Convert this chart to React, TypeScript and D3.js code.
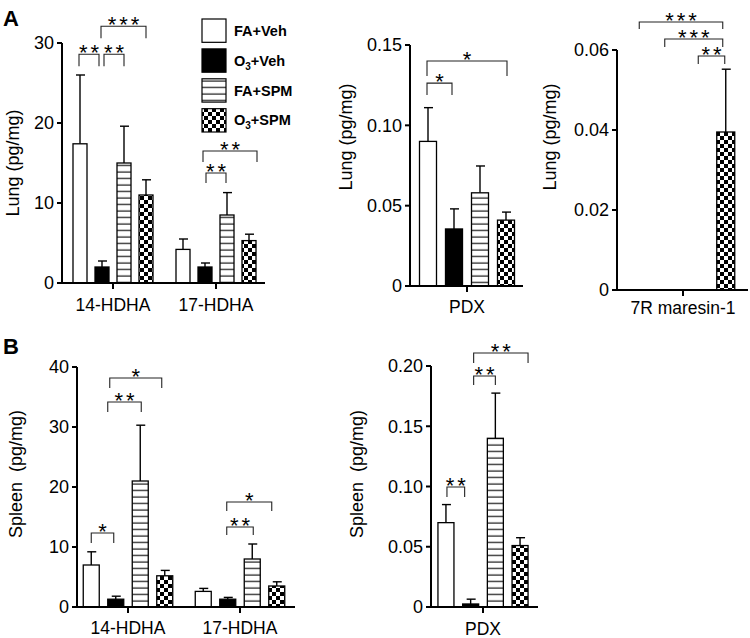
import React from 'react';
import * as d3 from 'd3';

// treatment groups (legend order)
const series = ['FA+Veh', 'O3+Veh', 'FA+SPM', 'O3+SPM'];
const fills = ['#fff', '#000', 'url(#stripes)', 'url(#checks)'];

// lung
const lungHdhaCats = ['14-HDHA', '17-HDHA'];
const lungHdhaMean = [[17.4, 2.0, 15.0, 11.0], [4.2, 2.0, 8.5, 5.3]];
const lungHdhaErr = [[8.6, 0.75, 4.6, 1.9], [1.3, 0.5, 2.8, 0.8]];

const lungPdxCats = ['PDX'];
const lungPdxMean = [[0.09, 0.0355, 0.058, 0.041]];
const lungPdxErr = [[0.021, 0.0125, 0.0167, 0.005]];

const lungMarCats = ['7R maresin-1'];
const lungMarMean = [[0, 0, 0, 0.0395]];
const lungMarErr = [[0, 0, 0, 0.0157]];

// spleen
const spleenHdhaCats = ['14-HDHA', '17-HDHA'];
const spleenHdhaMean = [[7.0, 1.3, 21.0, 5.2], [2.6, 1.3, 8.0, 3.5]];
const spleenHdhaErr = [[2.2, 0.5, 9.3, 0.9], [0.5, 0.3, 2.5, 0.7]];

const spleenPdxCats = ['PDX'];
const spleenPdxMean = [[0.07, 0.0025, 0.14, 0.051]];
const spleenPdxErr = [[0.015, 0.004, 0.0375, 0.0065]];

// y ticks
const ticks30 = [0, 10, 20, 30];
const ticks015 = [0, 0.05, 0.1, 0.15];
const ticks006 = [0, 0.02, 0.04, 0.06];
const ticks40 = [0, 10, 20, 30, 40];
const ticks020 = [0, 0.05, 0.1, 0.15, 0.2];

// significance brackets: [group, from series, to series, level, label, leg, dx1, dx2]
type Br = [number, number, number, number, string, number, number, number];
const lungHdhaSig: Br[] = [
    [0, 0, 1, 28.6, '**', 12, -1, -3],
    [0, 1, 2, 28.6, '**', 12, 2, 0],
    [0, 1, 3, 32.1, '***', 12, -1, 0],
    [1, 1, 2, 13.75, '**', 10, 1, -1],
    [1, 1, 3, 16.5, '**', 11, -2, 8],
];
const lungPdxSig: Br[] = [
    [0, 0, 1, 0.1263, '*', 12, -1, -2],
    [0, 0, 3, 0.14, '*', 15, -1, 1],
];
const lungMarSig: Br[] = [
    [0, 0, 3, 0.067, '***', 7, -1, -3],
    [0, 1, 3, 0.06275, '***', 8, -4, -3],
    [0, 2, 3, 0.0585, '**', 8, 1, -1],
];
const spleenHdhaSig: Br[] = [
    [0, 0, 1, 12.33, '*', 10, 0, -2],
    [0, 1, 2, 34.17, '**', 10, -8, 1],
    [0, 1, 3, 38.17, '*', 10, -6, -3],
    [1, 1, 2, 13.33, '**', 8, -1, 1],
    [1, 1, 3, 17.5, '*', 9, -1, -5],
];
const spleenPdxSig: Br[] = [
    [0, 0, 1, 0.0996, '**', 10, 1, -6],
    [0, 1, 2, 0.1917, '**', 9, 3, 0],
    [0, 1, 3, 0.2108, '**', 10, 3, 8],
];

const FONT = '"Liberation Sans", Arial, sans-serif';

const fmt2 = (v: number) => (v === 0 ? '0' : d3.format('.2f')(v));
const fmt0 = (v: number) => d3.format('d')(v);

function Panel(p: any) {
    const y = d3.scaleLinear().domain([0, p.yMax]).range(p.yRange);
    const x0 = d3.scaleBand().domain(p.cats).range(p.groupRange).padding(0);
    const pad = 1 - p.barWidth / p.barStep;
    const inner = (c: string) => {
        const cx = (x0(c) as number) + x0.bandwidth() / 2;
        return d3.scaleBand().domain(series)
            .range([cx - 2 * p.barStep, cx + 2 * p.barStep])
            .paddingInner(pad).paddingOuter(pad / 2);
    };
    const y0 = y(0);
    const yTop = y(p.ticks[p.ticks.length - 1]);

    return (
        <g>
            {/* bars */}
            {p.cats.map((c: string, gi: number) => {
                const x1 = inner(c);
                return series.map((s, si) => {
                    const v = p.means[gi][si];
                    const e = p.errs[gi][si];
                    const bx = x1(s) as number;
                    const cx = bx + x1.bandwidth() / 2;
                    return (
                        <g key={c + s}>
                            {e > 0 && (
                                <g stroke="#000" strokeWidth={1.4}>
                                    <line x1={cx} x2={cx} y1={y(v)} y2={y(v + e)} />
                                    <line x1={cx - 4} x2={cx + 5} y1={y(v + e)} y2={y(v + e)} />
                                </g>
                            )}
                            {v > 0 && (
                                <rect x={bx} y={y(v)} width={x1.bandwidth()} height={y0 - y(v)}
                                    fill={fills[si]} stroke="#000" strokeWidth={1.3} />
                            )}
                        </g>
                    );
                });
            })}
            {/* axes */}
            <line x1={p.axisX[0]} x2={p.axisX[1]} y1={y0} y2={y0} stroke="#000" strokeWidth={2} />
            <line x1={p.axisX[0]} x2={p.axisX[0]} y1={y0 + 1} y2={yTop} stroke="#000" strokeWidth={2} />
            {p.ticks.map((t: number) => (
                <g key={t}>
                    <line x1={p.axisX[0] - 5} x2={p.axisX[0]} y1={y(t)} y2={y(t)} stroke="#000" strokeWidth={2} />
                    <text x={p.axisX[0] - 8} y={y(t)} dy="0.35em" textAnchor="end" fontSize={18}>
                        {p.fmt(t)}
                    </text>
                </g>
            ))}
            {p.cats.map((c: string) => {
                const cx = (x0(c) as number) + x0.bandwidth() / 2;
                return (
                    <g key={c}>
                        <line x1={cx} x2={cx} y1={y0} y2={y0 + 6} stroke="#000" strokeWidth={2} />
                        <text x={cx} y={p.catY} textAnchor="middle" fontSize={17.5}>{c}</text>
                    </g>
                );
            })}
            <text transform={`translate(${p.yLabelX},${p.yLabelY}) rotate(-90)`} textAnchor="middle"
                dy="0.35em" fontSize={18} xmlSpace="preserve">{p.yLabel}</text>
            {/* significance */}
            {p.sig.map((b: Br, i: number) => {
                const [gi, a, z, lvl, lab, leg, dx1, dx2] = b;
                const x1 = inner(p.cats[gi]);
                const xa = (x1(series[a]) as number) + x1.bandwidth() / 2 + dx1;
                const xb = (x1(series[z]) as number) + x1.bandwidth() / 2 + dx2;
                const yy = y(lvl);
                return (
                    <g key={i}>
                        <path d={`M${xa},${yy + leg}V${yy}H${xb}V${yy + leg}`} fill="none" stroke="#222" strokeWidth={1.1} />
                        <text x={(xa + xb) / 2 + 1.5} y={yy + 6} textAnchor="middle" fontSize={22} letterSpacing={3}>{lab}</text>
                    </g>
                );
            })}
        </g>
    );
}

function Legend() {
    const ly = d3.scaleBand().domain(series).range([19, 132]).paddingInner(0.22);
    return (
        <g>
            {series.map((s, i) => {
                const yy = ly(s) as number;
                const [base, rest] = s.startsWith('O3') ? ['O', s.slice(2)] : [s, ''];
                return (
                    <g key={s}>
                        <rect x={202} y={yy} width={24} height={ly.bandwidth()} fill={fills[i]} stroke="#000" strokeWidth={1.2} />
                        <text x={234} y={yy + ly.bandwidth() / 2} dy="0.35em" fontSize={14.5} fontWeight="bold">
                            {base}
                            {rest && <tspan fontSize={10} dy={4}>3</tspan>}
                            {rest && <tspan dy={-4}>{rest}</tspan>}
                        </text>
                    </g>
                );
            })}
        </g>
    );
}

export default function App() {
    return (
        <svg width={750} height={638} style={{ position: 'absolute', left: 0, top: 0, background: '#fff' }}
            fontFamily={FONT}>
            <defs>
                <pattern id="stripes" patternUnits="userSpaceOnUse" width={8} height={6.5}>
                    <rect width={8} height={6.5} fill="#fff" />
                    <line x1={0} x2={8} y1={3} y2={3} stroke="#000" strokeWidth={1.1} />
                </pattern>
                <pattern id="checks" patternUnits="userSpaceOnUse" width={8} height={8}>
                    <rect width={8} height={8} fill="#fff" />
                    <rect width={4} height={4} fill="#000" />
                    <rect x={4} y={4} width={4} height={4} fill="#000" />
                </pattern>
            </defs>
            <rect width={750} height={638} fill="#fff" />
            <text x={3} y={26} fontSize={22} fontWeight="bold">A</text>
            <text x={3} y={354} fontSize={22} fontWeight="bold">B</text>

            <Panel cats={lungHdhaCats} means={lungHdhaMean} errs={lungHdhaErr} sig={lungHdhaSig}
                yMax={30} yRange={[283, 43]} ticks={ticks30} fmt={fmt0}
                axisX={[62, 265]} groupRange={[61.5, 267.5]} barStep={22} barWidth={14}
                yLabel="Lung (pg/mg)" yLabelX={13} yLabelY={163} catY={311} />
            <Legend />
            <Panel cats={lungPdxCats} means={lungPdxMean} errs={lungPdxErr} sig={lungPdxSig}
                yMax={0.15} yRange={[286, 45]} ticks={ticks015} fmt={fmt2}
                axisX={[410, 523]} groupRange={[410, 524]} barStep={26} barWidth={17}
                yLabel="Lung (pg/mg)" yLabelX={346} yLabelY={137} catY={313} />
            <Panel cats={lungMarCats} means={lungMarMean} errs={lungMarErr} sig={lungMarSig}
                yMax={0.06} yRange={[290, 50]} ticks={ticks006} fmt={fmt2}
                axisX={[617, 748]} groupRange={[617, 749]} barStep={28.5} barWidth={18}
                yLabel="Lung (pg/mg)" yLabelX={550} yLabelY={137} catY={314} />

            <Panel cats={spleenHdhaCats} means={spleenHdhaMean} errs={spleenHdhaErr} sig={spleenHdhaSig}
                yMax={40} yRange={[607, 367]} ticks={ticks40} fmt={fmt0}
                axisX={[77, 295]} groupRange={[72, 296]} barStep={24.5} barWidth={16}
                yLabel="Spleen  (pg/mg)" yLabelX={16} yLabelY={474} catY={634} />
            <Panel cats={spleenPdxCats} means={spleenPdxMean} errs={spleenPdxErr} sig={spleenPdxSig}
                yMax={0.2} yRange={[607, 366]} ticks={ticks020} fmt={fmt2}
                axisX={[431, 538]} groupRange={[431, 535]} barStep={24.7} barWidth={16}
                yLabel="Spleen  (pg/mg)" yLabelX={357} yLabelY={474} catY={635} />
        </svg>
    );
}
